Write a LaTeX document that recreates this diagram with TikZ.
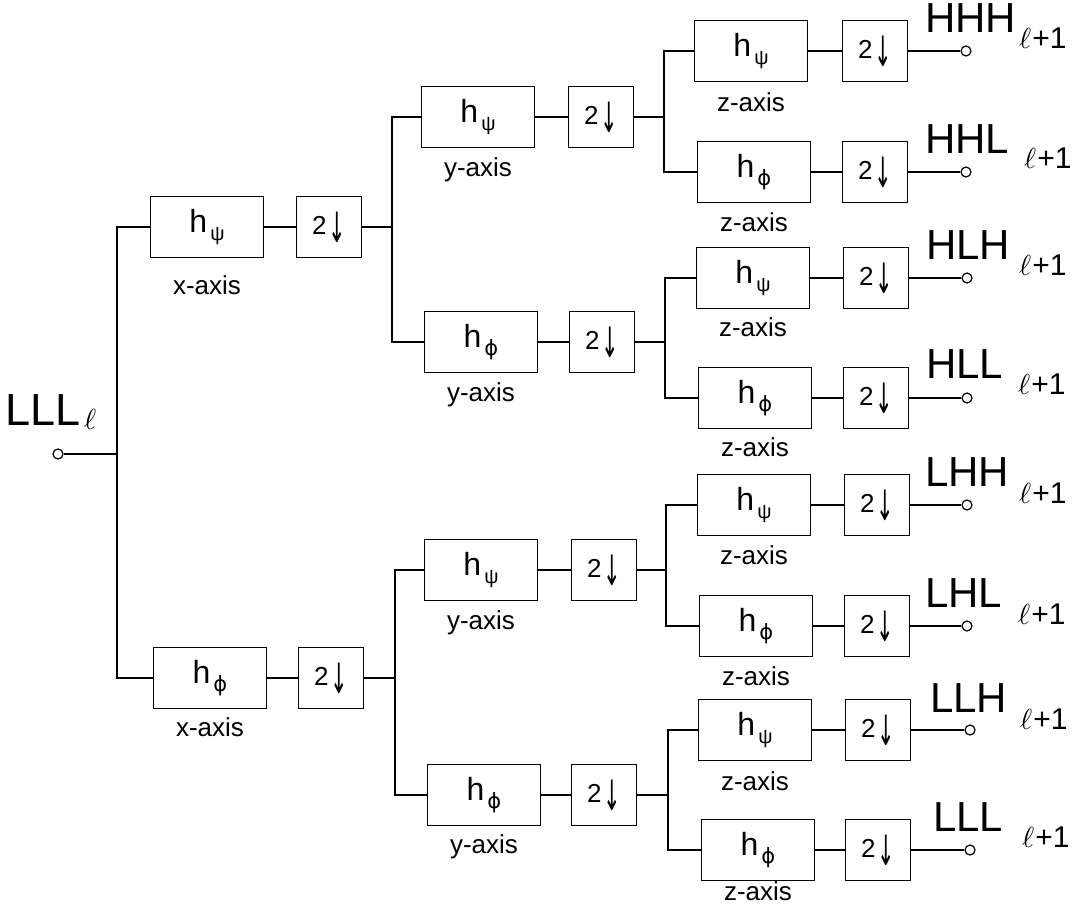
\RequirePackage{fix-cm}
\documentclass[tikz,border=0pt]{standalone}
\usepackage{fontspec}
\usepackage{graphicx}
\setmainfont{Liberation Sans}
\newfontfamily\symf{DejaVu Sans}
\usetikzlibrary{calc}

\tikzset{
  box/.style={draw, line width=1.4pt, minimum height=61pt, inner sep=0pt},
  filt/.style={box, minimum width=113pt},
  dwn/.style={box, minimum width=65pt},
  wire/.style={line width=1.4pt},
  port/.style={circle, draw, line width=1.2pt, fill=white, minimum size=10pt, inner sep=0pt},
  axl/.style={font=\fontsize{26}{26}\selectfont, anchor=base, inner sep=0pt},
  bigl/.style={font=\fontsize{42}{42}\selectfont, anchor=base west, inner sep=0pt},
  subl/.style={font=\fontsize{30}{30}\selectfont, anchor=base west, inner sep=0pt},
}
\newcommand{\bigell}{{\fontsize{10}{12}\selectfont\scalebox{2.9}{$\ell$}}}
\newcommand{\filtpsi}{{\fontsize{32}{32}\selectfont h}\hspace{3pt}\raisebox{-8pt}{\fontsize{20}{20}\selectfont ψ}}
\newcommand{\filtphi}{{\fontsize{32}{32}\selectfont h}\hspace{3pt}\raisebox{-8pt}{\fontsize{21}{21}\selectfont\symf ϕ}}
\newcommand{\dsamp}{{\fontsize{26}{26}\selectfont 2\hspace{2pt}\raisebox{-8pt}{\fontsize{22}{22}\selectfont\symf\scalebox{0.95}[1.9]{↓}}}}

\begin{document}
\begin{tikzpicture}[x=1pt,y=-1pt]
\useasboundingbox (0,0) rectangle (1081,916);

% input
\node[port] (in) at (58,454) {};
\node[font=\fontsize{45}{45}\selectfont, anchor=base west, inner sep=0pt] (lin) at (5,425) {LLL};
\node[anchor=base west, inner sep=0pt] (lins) at (84,429) {\bigell};
\coordinate (s1) at (117,454);

% level 1
\node[filt] (X1) at (207,227) {\filtpsi};
\node[dwn]  (D1) at (329,227) {\dsamp};
\node[filt] (X2) at (210,678) {\filtphi};
\node[dwn]  (D2) at (331,678) {\dsamp};
\node[axl] (lX1) at ($(X1.south)+(0,36)$) {x-axis};
\node[axl] (lX2) at ($(X2.south)+(0,27)$) {x-axis};
\coordinate (s2) at (392,227);
\coordinate (s3) at (395,678);

% level 2
\node[filt] (Y1) at (478,117) {\filtpsi};
\node[dwn]  (DY1) at (601,117) {\dsamp};
\node[filt] (Y2) at (481,342) {\filtphi};
\node[dwn]  (DY2) at (602,342) {\dsamp};
\node[filt] (Y3) at (481,570) {\filtpsi};
\node[dwn]  (DY3) at (604,570) {\dsamp};
\node[filt] (Y4) at (484,795) {\filtphi};
\node[dwn]  (DY4) at (604,795) {\dsamp};
\node[axl] (lY1) at ($(Y1.south)+(0,28)$) {y-axis};
\node[axl] (lY2) at ($(Y2.south)+(0,28)$) {y-axis};
\node[axl] (lY3) at ($(Y3.south)+(0,28)$) {y-axis};
\node[axl] (lY4) at ($(Y4.south)+(0,27)$) {y-axis};
\coordinate (s4) at (664,117);
\coordinate (s5) at (665,342);
\coordinate (s6) at (666,570);
\coordinate (s7) at (668,795);

% level 3
\node[filt] (Z1) at (751,51) {\filtpsi};
\node[dwn]  (DZ1) at (875,51) {\dsamp};
\node[filt] (Z2) at (754,172) {\filtphi};
\node[dwn]  (DZ2) at (875,172) {\dsamp};
\node[filt] (Z3) at (753,278) {\filtpsi};
\node[dwn]  (DZ3) at (876,278) {\dsamp};
\node[filt] (Z4) at (755,398) {\filtphi};
\node[dwn]  (DZ4) at (876,398) {\dsamp};
\node[filt] (Z5) at (754,505) {\filtpsi};
\node[dwn]  (DZ5) at (877,505) {\dsamp};
\node[filt] (Z6) at (756,626) {\filtphi};
\node[dwn]  (DZ6) at (877,626) {\dsamp};
\node[filt] (Z7) at (755,730) {\filtpsi};
\node[dwn]  (DZ7) at (878,730) {\dsamp};
\node[filt] (Z8) at (758,850) {\filtphi};
\node[dwn]  (DZ8) at (878,850) {\dsamp};
\node[axl] (lZ1) at ($(Z1.south)+(0,29)$) {z-axis};
\node[axl] (lZ2) at ($(Z2.south)+(0,28)$) {z-axis};
\node[axl] (lZ3) at ($(Z3.south)+(0,27)$) {z-axis};
\node[axl] (lZ4) at ($(Z4.south)+(0,27)$) {z-axis};
\node[axl] (lZ5) at ($(Z5.south)+(0,28)$) {z-axis};
\node[axl] (lZ6) at ($(Z6.south)+(0,28)$) {z-axis};
\node[axl] (lZ7) at ($(Z7.south)+(0,29)$) {z-axis};
\node[axl] (lZ8) at ($(Z8.south)+(0,19)$) {z-axis};

% outputs
\node[port] (O1) at (966,51) {};
\node[port] (O2) at (966,172) {};
\node[port] (O3) at (967,278) {};
\node[port] (O4) at (967,398) {};
\node[port] (O5) at (967,505) {};
\node[port] (O6) at (967,626) {};
\node[port] (O7) at (970,730) {};
\node[port] (O8) at (970,850) {};

\node[bigl] (n1) at (925,32) {HHH};  \node[subl] (m1) at (1019,48) {\bigell\hspace{1pt}+1};
\node[bigl] (n2) at (925,153) {HHL}; \node[subl] (m2) at (1024,168) {\bigell\hspace{1pt}+1};
\node[bigl] (n3) at (926,259) {HLH}; \node[subl] (m3) at (1019,275) {\bigell\hspace{1pt}+1};
\node[bigl] (n4) at (926,378) {HLL}; \node[subl] (m4) at (1018,394) {\bigell\hspace{1pt}+1};
\node[bigl] (n5) at (925,486) {LHH}; \node[subl] (m5) at (1019,503) {\bigell\hspace{1pt}+1};
\node[bigl] (n6) at (925,607) {LHL}; \node[subl] (m6) at (1018,624) {\bigell\hspace{1pt}+1};
\node[bigl] (n7) at (930,712) {LLH}; \node[subl] (m7) at (1020,729) {\bigell\hspace{1pt}+1};
\node[bigl] (n8) at (933,831) {LLL}; \node[subl] (m8) at (1022,847) {\bigell\hspace{1pt}+1};

% wires
\draw[wire] (in) -- (s1);
\draw[wire] (X1.west) -| (s1) |- (X2.west);
\draw[wire] (X1) -- (D1);
\draw[wire] (X2) -- (D2);
\draw[wire] (D1.east) -- (s2);
\draw[wire] (D2.east) -- (s3);
\draw[wire] (Y1.west) -| (s2) |- (Y2.west);
\draw[wire] (Y3.west) -| (s3) |- (Y4.west);
\foreach \i in {1,2,3,4} { \draw[wire] (Y\i) -- (DY\i); }
\draw[wire] (DY1.east) -- (s4);
\draw[wire] (DY2.east) -- (s5);
\draw[wire] (DY3.east) -- (s6);
\draw[wire] (DY4.east) -- (s7);
\draw[wire] (Z1.west) -| (s4) |- (Z2.west);
\draw[wire] (Z3.west) -| (s5) |- (Z4.west);
\draw[wire] (Z5.west) -| (s6) |- (Z6.west);
\draw[wire] (Z7.west) -| (s7) |- (Z8.west);
\foreach \i in {1,...,8} {
  \draw[wire] (Z\i) -- (DZ\i);
  \draw[wire] (DZ\i) -- (O\i);
}
\end{tikzpicture}
\end{document}
